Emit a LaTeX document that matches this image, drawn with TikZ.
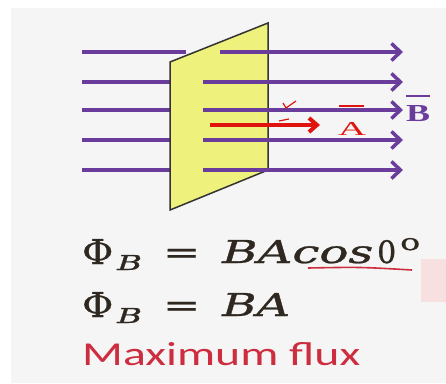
\documentclass[tikz,border=0pt]{standalone}
\usepackage{fontspec}
\newfontfamily\calib{Carlito}
\newfontfamily\tms{Liberation Serif}
\newfontfamily\dvs[FakeBold=0.8]{DejaVu Serif}
\usetikzlibrary{arrows.meta}
\definecolor{fieldpurple}{HTML}{6A3C9C}
\definecolor{plateyellow}{HTML}{EEF27C}
\definecolor{vecred}{HTML}{E0140F}
\definecolor{textred}{HTML}{CC2E40}
\definecolor{panelgray}{HTML}{F5F5F5}
\definecolor{pinkbox}{HTML}{F8E0E0}
\definecolor{eqtext}{HTML}{2E2820}
\begin{document}
\begin{tikzpicture}[x=1pt,y=-1pt,
  fieldback/.style={draw=fieldpurple,line width=3.5pt},
  fieldline/.style={draw=fieldpurple,line width=3.5pt,-{Straight Barb[length=9pt,width=17pt]}},
  vecarrow/.style={draw=vecred,line width=4pt,-{Straight Barb[length=8pt,width=14pt]}},
  eqnode/.style={anchor=base west,inner sep=0pt,text=eqtext},
  veclabel/.style={anchor=base,inner sep=0pt}]
\useasboundingbox (0,0) rectangle (446,383);
\fill[white] (0,0) rectangle (446,383);
\fill[panelgray] (11,8) rectangle (446,383);
\fill[pinkbox] (421,259) rectangle (446,302);
% field lines behind the plate
\coordinate (l1) at (82,52);  \coordinate (m1) at (186,52);
\coordinate (l2) at (82,82);  \coordinate (m2) at (175,82);
\coordinate (l3) at (82,110); \coordinate (m3) at (175,110);
\coordinate (l4) at (82,140); \coordinate (m4) at (175,140);
\coordinate (l5) at (82,170); \coordinate (m5) at (175,170);
\foreach \i in {1,...,5} {\draw[fieldback] (l\i) -- (m\i);}
% plate
\filldraw[fill=plateyellow,draw=black!80,line width=1.5pt]
  (170,62) -- (268,23) -- (268,170) -- (170,210) -- cycle;
% field lines in front
\coordinate (s1) at (220,52);  \coordinate (e1) at (403,52);
\coordinate (s2) at (203,82);  \coordinate (e2) at (403,82);
\coordinate (s3) at (203,110); \coordinate (e3) at (403,110);
\coordinate (s4) at (203,140); \coordinate (e4) at (403,140);
\coordinate (s5) at (203,170); \coordinate (e5) at (403,170);
\foreach \i in {1,...,5} {\draw[fieldline] (s\i) -- (e\i);}
% area vector
\coordinate (as) at (210,125); \coordinate (ae) at (320,125);
\draw[vecarrow] (as) -- (ae);
\draw[vecred,line width=1.2pt] (283,103) -- (286,108) -- (296,101);
\draw[vecred,line width=1.2pt] (279,121) -- (289,119);
\node[veclabel,text=vecred] (alab) at (352,135)
  {\resizebox{28pt}{13pt}{\tms A}};
\draw[vecred,line width=1.5pt] (339,106) -- (364,106);
\node[veclabel,text=fieldpurple] (blab) at (418,121)
  {\resizebox{24pt}{16pt}{\tms\bfseries B}};
\draw[fieldpurple,line width=1.5pt] (406,96) -- (430,96);
% equation 1
\node[eqnode] (phi1) at (82,264) {\resizebox{31pt}{25pt}{\dvs Φ}};
\node[eqnode] (sub1) at (117,270) {\resizebox{25pt}{15pt}{\dvs\itshape B}};
\node[eqnode] (eqs1) at (163,263) {\resizebox{37pt}{\height}{\fontsize{31}{36}\dvs =}};
\node[eqnode] (rhs1) at (222,263) {\resizebox{151pt}{23pt}{\dvs\itshape BAcos}};
\node[eqnode] (zero1) at (377,263) {\resizebox{19pt}{23pt}{\dvs 0}};
\node[eqnode] (deg1) at (400,250) {\resizebox{20pt}{12pt}{\dvs o}};
% equation 2
\node[eqnode] (phi2) at (82,317) {\resizebox{31pt}{25pt}{\dvs Φ}};
\node[eqnode] (sub2) at (117,323) {\resizebox{25pt}{15pt}{\dvs\itshape B}};
\node[eqnode] (eqs2) at (163,316) {\resizebox{37pt}{\height}{\fontsize{31}{36}\dvs =}};
\node[eqnode] (rhs2) at (222,316) {\resizebox{68pt}{23pt}{\dvs\itshape BA}};
\draw[textred,line width=1.6pt] (308,268) .. controls (360,267) .. (412,270);
% caption
\node[eqnode,text=textred] (maxf) at (82,365)
  {\resizebox{278pt}{23pt}{\calib Maximum flux}};
\end{tikzpicture}
\end{document}
